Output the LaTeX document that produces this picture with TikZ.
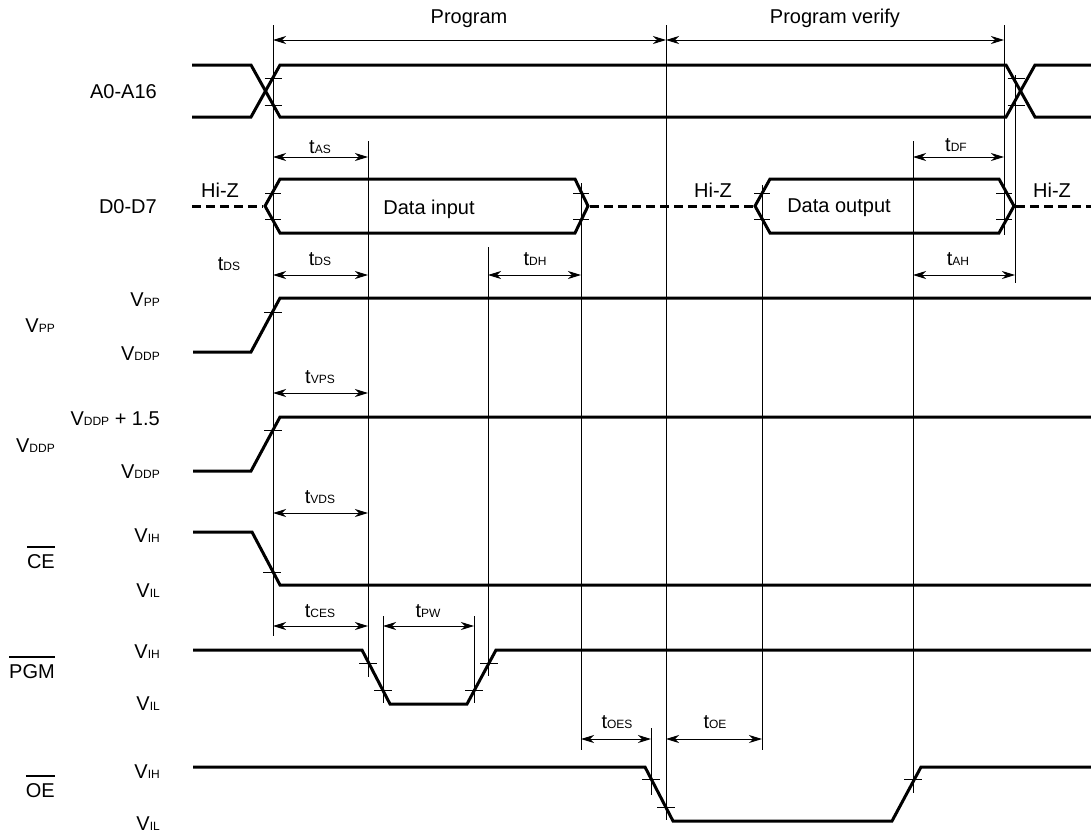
\documentclass[tikz,border=0pt]{standalone}
\usepackage{fontspec}
\setmainfont{Liberation Sans}
\usetikzlibrary{arrows.meta}
\newcommand{\sbs}[1]{{\fontsize{12}{12}\selectfont #1}}
\newcommand{\tm}[1]{t\sbs{#1}}
\newcommand{\vv}[1]{V\sbs{#1}}
\newcommand{\ovl}[1]{\leavevmode\vbox{\hrule height 1.2pt\kern 6.5pt\hbox{#1}}}
\begin{document}
\begin{tikzpicture}[x=1pt,y=-1pt,
  sig/.style={line width=3pt, line join=miter},
  vline/.style={line width=1pt},
  tk/.style={line width=1pt},
  dim/.style={line width=1pt,{Stealth[length=13pt,width=8pt,inset=4pt]}-{Stealth[length=13pt,width=8pt,inset=4pt]}},
  lbl/.style={font=\fontsize{20}{23}\selectfont, inner sep=0pt},
  hiz/.style={line width=3pt, dash pattern=on 9pt off 5pt}]
\useasboundingbox (0,0) rectangle (1091,833);

% ---------- vertical reference lines
\draw[vline] (273,25) -- (273,636);
\draw[vline] (368,141) -- (368,677);
\draw[vline] (488,247) -- (488,676);
\draw[vline] (581,183) -- (581,750);
\draw[vline] (666,25) -- (666,820);
\draw[vline] (762,185) -- (762,750);
\draw[vline] (913,141) -- (913,793);
\draw[vline] (1004,25) -- (1004,235);
\draw[vline] (1015,75) -- (1015,283);
\draw[vline] (651,728) -- (651,795);
\draw[vline] (383,616) -- (383,703);
\draw[vline] (474,616) -- (474,703);

% ---------- dimension arrows
\coordinate (pgL) at (273,40); \coordinate (pgM) at (666,40); \coordinate (pgR) at (1004,40);
\draw[dim] (pgL) -- (pgM);
\draw[dim] (pgM) -- (pgR);
\node[lbl, anchor=base] (prog) at (469,23.5) {Program};
\node[lbl, anchor=base] (progv) at (835,23.5) {Program verify};

\coordinate (asL) at (273,157); \coordinate (asR) at (368,157);
\draw[dim] (asL) -- (asR);
\node[lbl, anchor=base] (tAS) at (320,153) {\tm{AS}};
\coordinate (dfL) at (913,157); \coordinate (dfR) at (1004,157);
\draw[dim] (dfL) -- (dfR);
\node[lbl, anchor=base] (tDF) at (956,151) {\tm{DF}};

\coordinate (dsL) at (273,275); \coordinate (dsR) at (368,275);
\draw[dim] (dsL) -- (dsR);
\node[lbl, anchor=base] (tDS) at (320,265) {\tm{DS}};
\node[lbl, anchor=base] (tDSb) at (229,270) {\tm{DS}};
\coordinate (dhL) at (488,275); \coordinate (dhR) at (581,275);
\draw[dim] (dhL) -- (dhR);
\node[lbl, anchor=base] (tDH) at (535,265) {\tm{DH}};
\coordinate (ahL) at (913,275); \coordinate (ahR) at (1015,275);
\draw[dim] (ahL) -- (ahR);
\node[lbl, anchor=base] (tAH) at (958,265) {\tm{AH}};

\coordinate (vpL) at (273,393); \coordinate (vpR) at (368,393);
\draw[dim] (vpL) -- (vpR);
\node[lbl, anchor=base] (tVPS) at (320,383) {\tm{VPS}};
\coordinate (vdL) at (273,513); \coordinate (vdR) at (368,513);
\draw[dim] (vdL) -- (vdR);
\node[lbl, anchor=base] (tVDS) at (320,503) {\tm{VDS}};
\coordinate (ceL) at (273,626); \coordinate (ceR) at (368,626);
\draw[dim] (ceL) -- (ceR);
\node[lbl, anchor=base] (tCES) at (320,617) {\tm{CES}};
\coordinate (pwL) at (383,626); \coordinate (pwR) at (474,626);
\draw[dim] (pwL) -- (pwR);
\node[lbl, anchor=base] (tPW) at (428,617) {\tm{PW}};
\coordinate (oesL) at (581,739); \coordinate (oesR) at (651,739);
\draw[dim] (oesL) -- (oesR);
\node[lbl, anchor=base] (tOES) at (617,728) {\tm{OES}};
\coordinate (oeL) at (666,739); \coordinate (oeR) at (762,739);
\draw[dim] (oeL) -- (oeR);
\node[lbl, anchor=base] (tOE) at (715,728) {\tm{OE}};

% ---------- A0-A16
\draw[sig] (192,65) -- (251,65) -- (280,117) -- (1006,117) -- (1035,65) -- (1091,65);
\draw[sig] (192,117) -- (251,117) -- (280,65) -- (1006,65) -- (1035,117) -- (1091,117);
\foreach \x in {273,1016} \foreach \y in {78,105} \draw[tk] (\x-8.5,\y) -- (\x+8.5,\y);
\node[lbl, anchor=base east] (lA) at (157,98) {A0-A16};

% ---------- D0-D7
\draw[hiz] (192,206) -- (263,206);
\draw[sig] (265,206) -- (280,179) -- (575,179) -- (588,206) -- (575,233) -- (280,233) -- cycle;
\draw[hiz] (590,206) -- (753,206);
\draw[sig] (755,206) -- (770,179) -- (999,179) -- (1014,206) -- (999,233) -- (770,233) -- cycle;
\draw[hiz] (1016,206) -- (1091,206);
\foreach \x in {273,581,762,1004} \foreach \y in {193,219} \draw[tk] (\x-8,\y) -- (\x+8,\y);
\node[lbl, anchor=base east] (lD) at (157,213) {D0-D7};
\node[lbl, anchor=base] (hz1) at (220,197) {Hi-Z};
\node[lbl, anchor=base] (hz2) at (713,197) {Hi-Z};
\node[lbl, anchor=base] (hz3) at (1052,197) {Hi-Z};
\node[lbl, anchor=base] (din) at (429,214) {Data input};
\node[lbl, anchor=base] (dout) at (839,212) {Data output};

% ---------- VPP
\draw[sig] (193,352) -- (251,352) -- (280,298) -- (1091,298);
\draw[tk] (264,312) -- (282,312);
\node[lbl, anchor=base east] (vpp1) at (160,306) {\vv{PP}};
\node[lbl, anchor=base east] (vpp2) at (160,360) {\vv{DDP}};
\node[lbl, anchor=base east] (vppL) at (55,332) {\vv{PP}};

% ---------- VDDP
\draw[sig] (193,471) -- (251,471) -- (280,417) -- (1091,417);
\draw[tk] (264,430) -- (282,430);
\node[lbl, anchor=base east] (vdd1) at (160,425) {\vv{DDP} + 1.5};
\node[lbl, anchor=base east] (vdd2) at (160,478) {\vv{DDP}};
\node[lbl, anchor=base east] (vddL) at (55,452) {\vv{DDP}};

% ---------- CE
\draw[sig] (193,532) -- (252,532) -- (280,585) -- (1091,585);
\draw[tk] (263,572) -- (281,572);
\node[lbl, anchor=base east] (ce1) at (160,542) {\vv{IH}};
\node[lbl, anchor=base east] (ce2) at (160,597) {\vv{IL}};
\node[lbl, anchor=base east] (ceL) at (55,568) {\ovl{CE}};

% ---------- PGM
\draw[sig] (193,650) -- (362,650) -- (390,704) -- (467,704) -- (496,650) -- (1091,650);
\draw[tk] (359,663) -- (377,663);
\draw[tk] (374,690) -- (392,690);
\draw[tk] (465,690) -- (483,690);
\draw[tk] (480,663) -- (498,663);
\node[lbl, anchor=base east] (pg1) at (160,658) {\vv{IH}};
\node[lbl, anchor=base east] (pg2) at (160,710) {\vv{IL}};
\node[lbl, anchor=base east] (pgmL) at (55,678) {\ovl{PGM}};

% ---------- OE
\draw[sig] (193,767) -- (645,767) -- (673,821) -- (892,821) -- (921,767) -- (1091,767);
\draw[tk] (642,779) -- (660,779);
\draw[tk] (657,807) -- (675,807);
\draw[tk] (904,779) -- (922,779);
\node[lbl, anchor=base east] (oe1) at (160,778) {\vv{IH}};
\node[lbl, anchor=base east] (oe2) at (160,830) {\vv{IL}};
\node[lbl, anchor=base east] (oeLb) at (55,797) {\ovl{OE}};
\end{tikzpicture}
\end{document}
